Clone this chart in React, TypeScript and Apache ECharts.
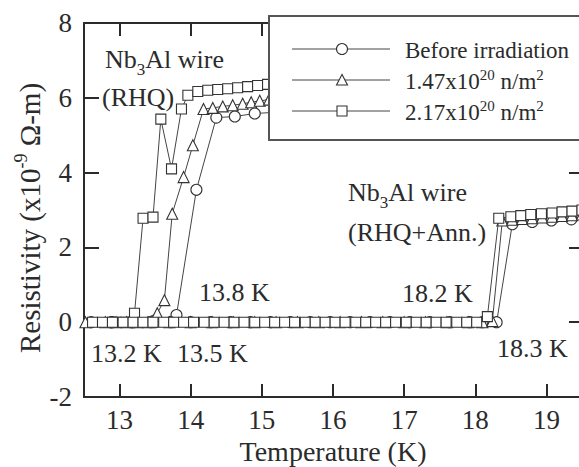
import React, { useEffect, useRef } from "react";
import * as echarts from "echarts";

// ---- data ----
// RHQ wire (transition ~13-14 K)
const rhqCircleT = [12.9, 13.2, 13.5, 13.8, 14.08, 14.36, 14.62, 14.9, 15.17, 15.45];
const rhqCircleR = [0, 0, 0, 0.19, 3.54, 5.47, 5.5, 5.58, 5.61, 5.63];

const rhqTriT = [12.95, 13.25, 13.53, 13.63, 13.74, 13.9, 14.03, 14.18, 14.31, 14.45, 14.59, 14.73, 14.85, 14.97, 15.1, 15.24];
const rhqTriR = [0, 0, 0.24, 0.59, 2.9, 3.88, 4.73, 5.7, 5.73, 5.77, 5.8, 5.84, 5.88, 5.92, 5.95, 5.97];

const rhqSqT = [12.95, 13.08, 13.21, 13.33, 13.47, 13.58, 13.73, 13.87, 13.96, 14.1, 14.24, 14.38, 14.52, 14.66, 14.8, 14.94, 15.08, 15.22, 15.36];
const rhqSqR = [0, 0, 0.24, 2.78, 2.81, 5.43, 4.1, 5.7, 6.07, 6.17, 6.2, 6.22, 6.24, 6.27, 6.3, 6.33, 6.36, 6.38, 6.4];

// RHQ + Ann. wire (transition ~18.3 K)
const annCircleT = [12.6, 12.88, 13.16, 13.44, 13.72, 14.0, 14.28, 14.56, 14.84, 15.12, 15.4, 15.68, 15.96, 16.24, 16.52, 16.8, 17.08, 17.36, 17.64, 17.92, 18.1, 18.3, 18.52, 18.8, 19.07, 19.35];
const annCircleR = [0, 0, 0, 0, 0, 0, 0, 0, 0, 0, 0, 0, 0, 0, 0, 0, 0, 0, 0, 0, 0, 0, 2.62, 2.68, 2.72, 2.75];

const annTriT = [12.52, 12.8, 13.1, 13.4, 13.7, 14.0, 14.3, 14.6, 14.9, 15.2, 15.5, 15.8, 16.1, 16.4, 16.7, 17.0, 17.3, 17.6, 17.9, 18.1, 18.24, 18.38, 18.52, 18.66, 18.8, 18.94, 19.08, 19.22, 19.36, 19.5];
const annTriR = [0, 0, 0, 0, 0, 0, 0, 0, 0, 0, 0, 0, 0, 0, 0, 0, 0, 0, 0, 0, 0.03, 2.72, 2.74, 2.76, 2.78, 2.8, 2.82, 2.84, 2.86, 2.88];

const annSqT = [12.62, 12.76, 12.9, 13.05, 13.19, 13.33, 13.47, 13.62, 13.76, 13.9, 14.04, 14.19, 14.33, 14.47, 14.61, 14.75, 14.9, 15.04, 15.18, 15.32, 15.46, 15.61, 15.75, 15.89, 16.03, 16.17, 16.32, 16.46, 16.6, 16.74, 16.88, 17.03, 17.17, 17.31, 17.45, 17.59, 17.74, 17.88, 18.02, 18.17, 18.33, 18.5, 18.64, 18.78, 18.93, 19.08, 19.22, 19.36, 19.5];
const annSqR = [0, 0, 0, 0, 0, 0, 0, 0, 0, 0, 0, 0, 0, 0, 0, 0, 0, 0, 0, 0, 0, 0, 0, 0, 0, 0, 0, 0, 0, 0, 0, 0, 0, 0, 0, 0, 0, 0, 0, 0.15, 2.78, 2.82, 2.85, 2.88, 2.9, 2.92, 2.95, 2.97, 3.0];

const legendLabels = [
  "{n|Before irradiation}",
  "{n|1.47x10}{s|20}{n| n/m}{s|2}",
  "{n|2.17x10}{s|20}{n| n/m}{s|2}",
];
const legendSymbols = ["circle", "triangle", "rect"];

const FONT = "'Liberation Serif', serif";
const INK = "#2b2b2b";

function mkSeries(name: string, T: number[], R: number[], symbol: string, size: number, z: number) {
  return {
    type: "line",
    name,
    data: T.map((t, i) => [t, R[i]]),
    symbol,
    symbolSize: size,
    showAllSymbol: true,
    silent: true,
    z,
    lineStyle: { color: "#444", width: 1 },
    itemStyle: { color: "#fff", borderColor: "#333", borderWidth: 1.1 },
  };
}

function legendGraphics() {
  const els: any[] = [];
  els.push({
    type: "rect",
    z: 100,
    shape: { x: 269, y: 16, width: 330, height: 124 },
    style: { fill: "#fff", stroke: "#555", lineWidth: 2 },
  });
  const rows = [49, 80, 111];
  rows.forEach((y, i) => {
    els.push({ type: "line", z: 101, shape: { x1: 292, y1: y, x2: 390, y2: y }, style: { stroke: "#444", lineWidth: 1 } });
    const sym = legendSymbols[i];
    if (sym === "circle") {
      els.push({ type: "circle", z: 102, shape: { cx: 342, cy: y, r: 5.5 }, style: { fill: "#fff", stroke: "#333", lineWidth: 1.1 } });
    } else if (sym === "triangle") {
      els.push({ type: "polygon", z: 102, shape: { points: [[342, y - 5.5], [336.5, y + 5], [347.5, y + 5]] }, style: { fill: "#fff", stroke: "#333", lineWidth: 1.1 } });
    } else {
      els.push({ type: "rect", z: 102, shape: { x: 337, y: y - 5, width: 10, height: 10 }, style: { fill: "#fff", stroke: "#333", lineWidth: 1.1 } });
    }
    els.push({
      type: "text",
      z: 102,
      x: 405,
      y,
      style: {
        text: legendLabels[i],
        rich: {
          n: { fontSize: 23, fontFamily: FONT, fill: INK, verticalAlign: "bottom", lineHeight: 25 },
          s: { fontSize: 15, fontFamily: FONT, fill: INK, verticalAlign: "top", lineHeight: 25 },
        },
        verticalAlign: "middle",
        align: "left",
      },
    });
  });
  return els;
}

function plainText(x: number, y: number, text: string) {
  return {
    type: "text",
    z: 50,
    x,
    y,
    style: { text, fontSize: 26, fontFamily: FONT, fill: INK, align: "left", verticalAlign: "middle" },
  };
}

function nbText(x: number, y: number) {
  return {
    type: "text",
    z: 50,
    x,
    y,
    style: {
      text: "{n|Nb}{s|3}{n|Al wire}",
      rich: {
        n: { fontSize: 26, fontFamily: FONT, fill: INK, verticalAlign: "top", lineHeight: 32 },
        s: { fontSize: 17, fontFamily: FONT, fill: INK, verticalAlign: "bottom", lineHeight: 32 },
      },
      align: "left",
      verticalAlign: "middle",
    },
  };
}

export default function App() {
  const ref = useRef<HTMLDivElement>(null);
  useEffect(() => {
    if (!ref.current) return;
    const chart = echarts.init(ref.current, undefined, { renderer: "svg" });
    const axisLine = { show: true, onZero: false, lineStyle: { color: INK, width: 2 } };
    const axisTick = { show: true, inside: true, length: 13, lineStyle: { color: INK, width: 2 } };
    const labelStyle = { fontSize: 27, fontFamily: FONT, color: INK };
    chart.setOption({
      animation: false,
      backgroundColor: "#fff",
      grid: { left: 84, top: 23, width: 498, height: 374, containLabel: false, outerBoundsMode: "none" },
      xAxis: [
        {
          type: "value",
          min: 12.5,
          max: 19.5,
          minInterval: 1,
          maxInterval: 1,
          position: "bottom",
          axisLine,
          axisTick,
          splitLine: { show: false },
          axisLabel: {
            ...labelStyle,
            margin: 9,
            formatter: (v: number) => (Number.isInteger(v) ? String(v) : ""),
          },
          name: "Temperature (K)",
          nameLocation: "middle",
          nameGap: 37,
          nameTextStyle: { fontSize: 28, fontFamily: FONT, color: INK },
        },
        {
          type: "value",
          min: 12.5,
          max: 19.5,
          minInterval: 1,
          maxInterval: 1,
          position: "top",
          axisLine,
          axisTick,
          splitLine: { show: false },
          axisLabel: { show: false },
        },
      ],
      yAxis: [
        {
          type: "value",
          min: -2,
          max: 8,
          interval: 2,
          position: "left",
          axisLine,
          axisTick: { ...axisTick, length: 15 },
          splitLine: { show: false },
          axisLabel: { ...labelStyle, margin: 12 },
        },
        {
          type: "value",
          min: -2,
          max: 8,
          interval: 2,
          position: "right",
          axisLine,
          axisTick: { ...axisTick, length: 13 },
          splitLine: { show: false },
          axisLabel: { show: false },
        },
      ],
      series: [
        mkSeries("Before irradiation", rhqCircleT, rhqCircleR, "circle", 11, 2),
        mkSeries("Before irradiation (Ann.)", annCircleT, annCircleR, "circle", 11, 2),
        mkSeries("1.47x10^20 n/m^2", rhqTriT, rhqTriR, "triangle", 11, 3),
        mkSeries("1.47x10^20 n/m^2 (Ann.)", annTriT, annTriR, "triangle", 11, 3),
        mkSeries("2.17x10^20 n/m^2", rhqSqT, rhqSqR, "rect", 10, 4),
        mkSeries("2.17x10^20 n/m^2 (Ann.)", annSqT, annSqR, "rect", 10, 4),
      ],
      graphic: [
        {
          type: "text",
          z: 50,
          x: 28,
          y: 218,
          rotation: Math.PI / 2,
          style: {
            text: "{n|Resistivity (x10}{s|-9}{n| Ω-m)}",
            rich: {
              n: { fontSize: 29, fontFamily: FONT, fill: INK, verticalAlign: "bottom", lineHeight: 32 },
              s: { fontSize: 18, fontFamily: FONT, fill: INK, verticalAlign: "top", lineHeight: 32 },
            },
            align: "center",
            verticalAlign: "middle",
          },
        },
        nbText(105, 62),
        plainText(102, 97, "(RHQ)"),
        nbText(348, 195),
        plainText(348, 232, "(RHQ+Ann.)"),
        plainText(199, 292, "13.8 K"),
        plainText(91, 353, "13.2 K"),
        plainText(177, 353, "13.5 K"),
        plainText(402, 293, "18.2 K"),
        plainText(497, 348, "18.3 K"),
        ...legendGraphics(),
      ],
    });
    return () => chart.dispose();
  }, []);
  return <div ref={ref} style={{ position: "fixed", left: 0, top: 0, width: 579, height: 467 }} />;
}
